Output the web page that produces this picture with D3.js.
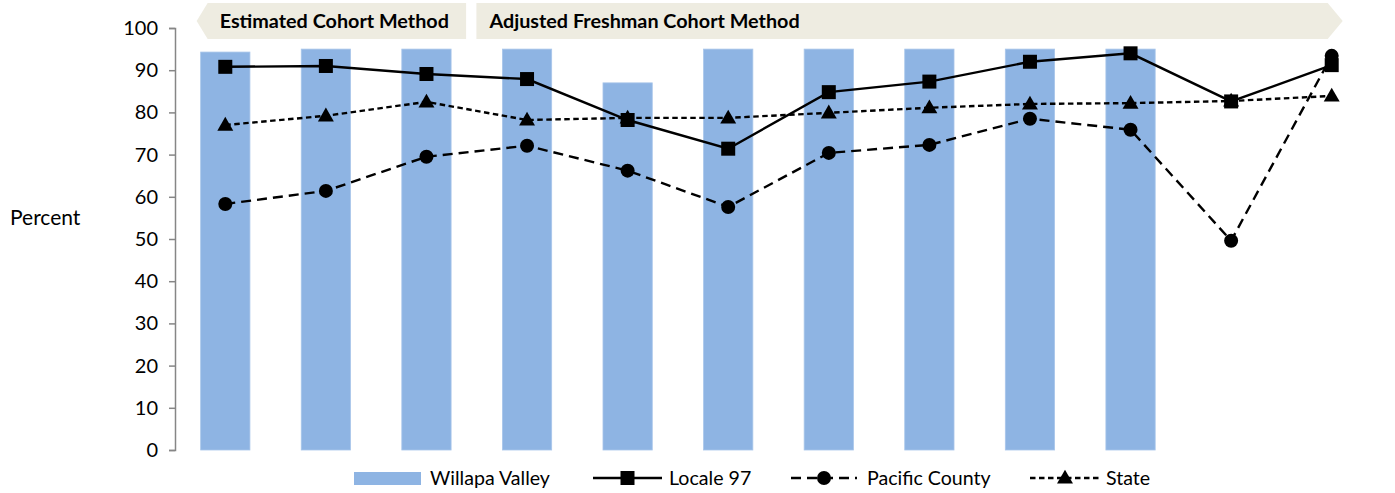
<!DOCTYPE html>
<html>
<head>
<meta charset="utf-8">
<script src="https://cdn.jsdelivr.net/npm/d3@7"></script>
<style>
  body { margin: 0; background: #fff; }
  svg { font-family: Lato, "Open Sans", sans-serif; }
</style>
</head>
<body>
<svg id="chart" width="1395" height="493"></svg>
<script>
// categories (no axis labels shown in the chart)
var categories = ["c1", "c2", "c3", "c4", "c5", "c6", "c7", "c8", "c9", "c10", "c11", "c12"];
var willapaValley = [94.3, 95, 95, 95, 87, 95, 95, 95, 95, 95, null, null];
var locale97 = [90.8, 91.0, 89.1, 87.9, 78.2, 71.4, 84.8, 87.3, 92.0, 94.0, 82.6, 91.2];
var pacificCounty = [58.3, 61.4, 69.5, 72.1, 66.2, 57.6, 70.4, 72.3, 78.5, 75.9, 49.6, 93.4];
var state = [77.0, 79.2, 82.5, 78.2, 78.7, 78.7, 79.9, 81.1, 82.0, 82.2, 82.7, 83.9];
var yTicks = [0, 10, 20, 30, 40, 50, 60, 70, 80, 90, 100];
var methods = [
    {label: "Estimated Cohort Method", from: 0, to: 2, dir: "left"},
    {label: "Adjusted Freshman Cohort Method", from: 3, to: 11, dir: "right"}
];

var margin = {top: 28, right: 13, bottom: 43, left: 175};
var width = 1395, height = 493;
var innerW = width - margin.left - margin.right;
var innerH = height - margin.top - margin.bottom;

var svg = d3.select("#chart");
var g = svg.append("g")
    .attr("transform", "translate(" + margin.left + "," + margin.top + ")");

var x = d3.scaleBand().domain(categories).range([0, innerW]).paddingInner(0.51).paddingOuter(0.255);
var xc = function(i) { return x(categories[i]) + x.bandwidth() / 2; };
var y = d3.scaleLinear().domain([0, 100]).range([innerH, 0]);

// bars
g.selectAll("rect.bar")
    .data(willapaValley.map(function(v, i) { return {v: v, i: i}; }).filter(function(d) { return d.v != null; }))
    .enter().append("rect")
    .attr("class", "bar")
    .attr("x", function(d) { return x(categories[d.i]); })
    .attr("y", function(d) { return y(d.v); })
    .attr("width", x.bandwidth())
    .attr("height", function(d) { return innerH - y(d.v); })
    .style("fill", "#8eb4e3")
    .style("stroke", "#a9c6ea")
    .style("stroke-width", 0.8);

// y axis
var yAxis = g.append("g")
    .call(d3.axisLeft(y).tickValues(yTicks).tickSize(6).tickPadding(11));
yAxis.select(".domain").attr("stroke", "#868686").attr("stroke-width", 1.5);
yAxis.selectAll(".tick line").attr("stroke", "#868686").attr("stroke-width", 1.5);
yAxis.selectAll(".tick text").style("font-size", "20px").style("fill", "#000")
    .style("font-family", "Lato, sans-serif");

g.append("text")
    .attr("x", -margin.left + 10)
    .attr("y", y(55))
    .attr("dy", "0.35em")
    .style("font-size", "21px")
    .text("Percent");

// method banners
var bannerTop = 3 - margin.top, bannerH = 36;
methods.forEach(function(m) {
    var x0, x1, pts;
    if (m.dir === "left") {
        x0 = x(categories[m.from]) - 4;
        x1 = x(categories[m.to]) + x.bandwidth() + 15;
        pts = [[x0 + 11, bannerTop], [x1, bannerTop], [x1, bannerTop + bannerH],
               [x0 + 11, bannerTop + bannerH], [x0, bannerTop + bannerH / 2]];
    } else {
        x0 = x(categories[m.from]) - 26;
        x1 = xc(m.to) + 11;
        pts = [[x0, bannerTop], [x1 - 15, bannerTop], [x1, bannerTop + bannerH / 2],
               [x1 - 15, bannerTop + bannerH], [x0, bannerTop + bannerH]];
    }
    g.append("polygon")
        .attr("points", pts.map(function(p) { return p.join(","); }).join(" "))
        .style("fill", "#eeece1");
    g.append("text")
        .attr("x", m.dir === "left" ? x0 + 23 : x0 + 13)
        .attr("y", bannerTop + bannerH / 2)
        .attr("dy", "0.36em")
        .style("font-size", "19.8px")
        .style("font-weight", "bold")
        .text(m.label);
});

// line series
var series = [
    {name: "Locale 97", values: locale97, dash: null, marker: "square"},
    {name: "Pacific County", values: pacificCounty, dash: "10,6", marker: "circle"},
    {name: "State", values: state, dash: "5.5,3.5", marker: "triangle"}
];

var line = d3.line()
    .x(function(d, i) { return xc(i); })
    .y(function(d) { return y(d); });

function drawMarker(sel, type, cx, cy) {
    if (type === "square") {
        sel.append("rect").attr("x", cx - 7).attr("y", cy - 7)
            .attr("width", 14).attr("height", 14).style("fill", "#000");
    } else if (type === "circle") {
        sel.append("circle").attr("cx", cx).attr("cy", cy).attr("r", 7).style("fill", "#000");
    } else {
        sel.append("path")
            .attr("d", d3.symbol().type(d3.symbolTriangle).size(110)())
            .attr("transform", "translate(" + cx + "," + (cy + 1) + ")")
            .style("fill", "#000");
    }
}

// draw order: state, pacific county, locale 97 on top
[series[2], series[1], series[0]].forEach(function(s) {
    g.append("path")
        .datum(s.values)
        .attr("d", line)
        .style("fill", "none")
        .style("stroke", "#000")
        .style("stroke-width", 2.4)
        .style("stroke-dasharray", s.dash);
    var mg = g.append("g");
    s.values.forEach(function(v, i) { drawMarker(mg, s.marker, xc(i), y(v)); });
});

// legend
var legendY = 478;
var leg = svg.append("g");
leg.append("rect").attr("x", 354).attr("y", legendY - 6).attr("width", 67).attr("height", 13)
    .style("fill", "#8eb4e3");
leg.append("text").attr("x", 430).attr("y", legendY).attr("dy", "0.36em")
    .style("font-size", "19.6px").text("Willapa Valley");

var legItems = [
    {s: series[0], x0: 593, x1: 662, tx: 669},
    {s: series[1], x0: 791, x1: 857, tx: 867},
    {s: series[2], x0: 1030, x1: 1100, tx: 1106}
];
legItems.forEach(function(it) {
    leg.append("line").attr("x1", it.x0).attr("x2", it.x1)
        .attr("y1", legendY).attr("y2", legendY)
        .style("stroke", "#000").style("stroke-width", 2.4)
        .style("stroke-dasharray", it.s.dash);
    drawMarker(leg, it.s.marker, (it.x0 + it.x1) / 2, legendY);
    leg.append("text").attr("x", it.tx).attr("y", legendY).attr("dy", "0.36em")
        .style("font-size", "19.6px").text(it.s.name);
});
</script>
</body>
</html>
